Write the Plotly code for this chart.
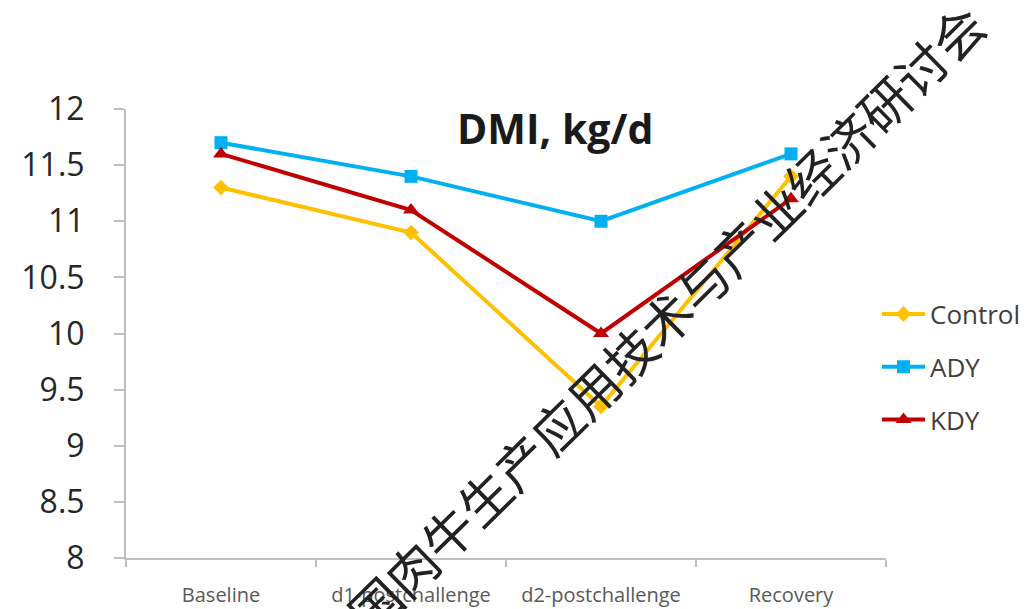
import plotly.graph_objects as go

# Dry matter intake by period
periods = ["Baseline", "d1-postchallenge", "d2-postchallenge", "Recovery"]
control = [11.3, 10.9, 9.35, 11.4]
ady = [11.7, 11.4, 11.0, 11.6]
kdy = [11.6, 11.1, 10.0, 11.2]

y_ticks = [8, 8.5, 9, 9.5, 10, 10.5, 11, 11.5, 12]
y_tick_text = ["8", "8.5", "9", "9.5", "10", "10.5", "11", "11.5", "12"]

series = [
    ("Control", control, "#FFC000", "diamond", 12),
    ("ADY", ady, "#00B0F0", "square", 13),
    ("KDY", kdy, "#C00000", "triangle-up", 14),
]

fig = go.Figure()
for name, vals, color, symbol, size in series:
    fig.add_trace(go.Scatter(
        x=periods, y=vals, name=name, mode="lines+markers",
        legendgroup=name,
        line=dict(color=color, width=4),
        marker=dict(symbol=symbol, size=size, color=color),
    ))

W, H = 1032, 609
L, R, T, B = 126, 146, 109, 51
PW, PH = W - L - R, H - T - B


def px(x):
    return (x - L) / PW


def py(y):
    return (H - B - y) / PH


FONT = "Open Sans, sans-serif"

fig.update_layout(
    width=W, height=H,
    margin=dict(l=L, r=R, t=T, b=B, autoexpand=False),
    paper_bgcolor="white", plot_bgcolor="white",
    font=dict(family=FONT, color="#404040"),
    showlegend=True,
    legend=dict(
        x=px(877), y=py(367), xanchor="left", yanchor="middle",
        font=dict(size=26, color="#404040", family=FONT),
        itemwidth=43, tracegroupgap=16,
        bgcolor="rgba(0,0,0,0)",
    ),
    xaxis=dict(
        type="category", range=[-0.5, 3.5], automargin=False,
        showline=True, linecolor="#BFBFBF", linewidth=2,
        ticks="outside", tickson="boundaries", ticklen=7,
        tickcolor="#BFBFBF", tickwidth=2,
        showgrid=False, zeroline=False,
        tickfont=dict(size=20, color="#595959", family=FONT),
        ticklabelstandoff=18,
    ),
    yaxis=dict(
        range=[8, 12], tickvals=y_ticks, ticktext=y_tick_text,
        automargin=False,
        showline=True, linecolor="#BFBFBF", linewidth=2,
        ticks="outside", ticklen=10, tickcolor="#BFBFBF", tickwidth=2,
        showgrid=False, zeroline=False,
        tickfont=dict(size=32, color="#262626", family=FONT),
        ticklabelstandoff=23,
    ),
    annotations=[
        dict(
            text="<b>DMI, kg/d</b>", xref="paper", yref="paper",
            x=px(555), y=py(128),
            xanchor="center", yanchor="middle", showarrow=False,
            font=dict(size=41, color="#1a1a1a", family=FONT),
        ),
        dict(
            text="国肉牛生产应用技术与产业经济研讨会",
            xref="paper", yref="paper",
            x=px(665), y=py(318),
            xanchor="center", yanchor="middle", showarrow=False,
            textangle=-44.5,
            font=dict(size=51, color="#222222", family="Noto Sans CJK SC"),
        ),
    ],
)

fig.write_html("out.html")
